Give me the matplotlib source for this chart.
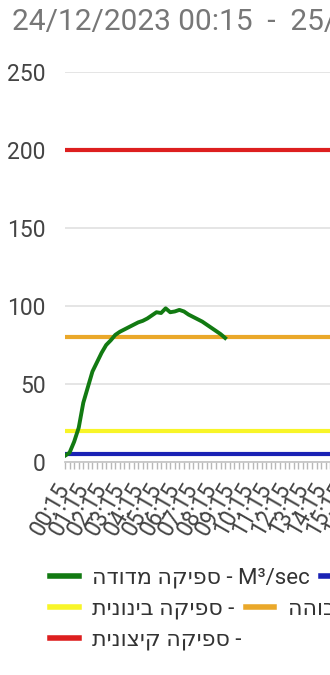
import matplotlib
matplotlib.use('Agg')
import matplotlib.pyplot as plt
from matplotlib.lines import Line2D

# measured flow, one value every 15 minutes starting 00:15
flow = [4, 6, 13, 22, 38, 48, 58, 64, 70, 75, 78, 81.5, 83.5, 85, 86.5, 88,
        89.5, 90.5, 92, 94, 96, 95.5, 98.5, 96, 96.5, 97.5, 96.5, 94.5, 93,
        91.5, 90, 88, 86, 84, 82, 79.5]

# threshold levels
low_level = 5
mid_level = 20
high_level = 80
extreme_level = 200

hour_labels = [f'{h:02d}:15' for h in range(24)] + ['00:15']
y_ticks = [0, 50, 100, 150, 200, 250]
title = '24/12/2023 00:15  -  25/12/2023 00:15'

def heb(s):
    # matplotlib has no bidi support, so reverse hebrew runs by hand
    return s[::-1]

labels = {
    'flow': heb('ספיקה מדודה') + ' - M³/sec',
    'low': heb('ספיקה נמוכה') + ' -',
    'mid': heb('ספיקה בינונית') + ' -',
    'high': heb('ספיקה גבוהה') + ' -',
    'extreme': heb('ספיקה קיצונית') + ' -',
}
colors = {
    'flow': '#127a12',
    'low': '#1a22b5',
    'mid': '#f8f528',
    'high': '#eaa82a',
    'extreme': '#dd1f1f',
}

fonts = ['Roboto', 'DejaVu Sans']
plt.rcParams['font.family'] = fonts

W, H = 330, 675
fig = plt.figure(figsize=(W / 100, H / 100), dpi=100)
step = 4.575  # px per 15 min
ax = fig.add_axes([65 / W, (H - 462) / H, 96 * step / W, 390 / H])

ax.axhline(extreme_level, color=colors['extreme'], lw=3, zorder=3)
ax.axhline(high_level, color=colors['high'], lw=3, zorder=3)
ax.axhline(mid_level, color=colors['mid'], lw=3, zorder=3)
ax.axhline(low_level, color=colors['low'], lw=3, zorder=3)
ax.plot(range(len(flow)), flow, color=colors['flow'], lw=2.8, zorder=4)

ax.set_xlim(0, 96)
ax.set_ylim(0, 250)
ax.set_yticks(y_ticks)
ax.set_yticklabels([str(v) for v in y_ticks], fontsize=16.5, color='#444444')
ax.tick_params(axis='y', length=0, pad=14)
ax.grid(axis='y', color='#e3e3e3', lw=1.3)
ax.set_axisbelow(True)

ax.set_xticks(range(0, 97, 4))
ax.set_xticklabels(hour_labels, rotation=60, ha='right', va='center',
                   rotation_mode='anchor', fontsize=16.5, color='#444444')
ax.set_xticks(range(0, 97), minor=True)
ax.tick_params(axis='x', which='both', length=5, width=1, color='#b8b8b8',
               direction='out', pad=11)

for side in ['left', 'right', 'top']:
    ax.spines[side].set_visible(False)
ax.spines['bottom'].set_color('#c8c8c8')
ax.spines['bottom'].set_linewidth(1.3)

fig.text(12 / W, 1 - 30 / H, title, fontsize=21.5, color='#777777',
         va='baseline', ha='left')

rows = [['flow', 'low'], ['mid', 'high'], ['extreme']]
row_y = [578, 609, 640]
for keys, y in zip(rows, row_y):
    handles = [Line2D([], [], color=colors[k], lw=4) for k in keys]
    fig.legend(handles, [labels[k] for k in keys], ncol=2,
               loc='center left', bbox_to_anchor=(50 / W, 1 - y / H),
               frameon=False, borderpad=0, borderaxespad=0,
               handlelength=1.3, handletextpad=0.6, columnspacing=0.5,
               prop={'family': fonts, 'size': 16}, labelcolor='#333333')

fig.savefig('out.png', dpi=100)
